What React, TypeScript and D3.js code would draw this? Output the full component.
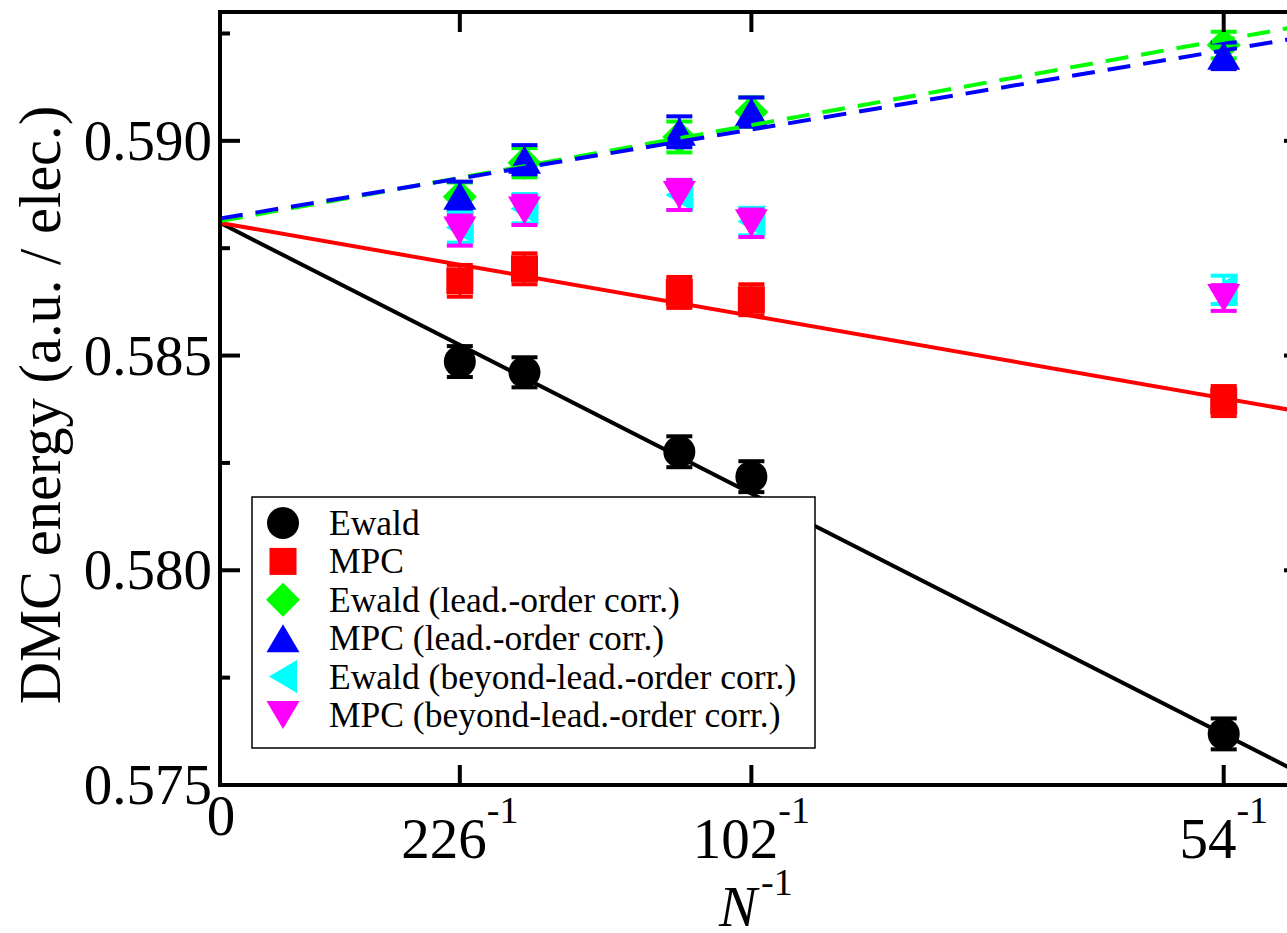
import React from "react";
import * as d3 from "d3";

// ---- data ----
const sizes = [226, 178, 118, 102, 54];
const ewald = [0.58486, 0.58461, 0.58276, 0.58218, 0.57619];
const ewaldErr = [0.00036, 0.00035, 0.00036, 0.00036, 0.00036];
const mpc = [0.58674, 0.58702, 0.58647, 0.5863, 0.58394];
const mpcErr = [0.00037, 0.00036, 0.00036, 0.00036, 0.00035];
const ewaldLead = [0.5887, 0.58949, 0.59009, 0.59067, 0.59223];
const ewaldLeadErr = [0.00033, 0.00034, 0.00036, 0.00034, 0.00031];
const mpcLead = [0.58872, 0.58956, 0.59021, 0.59067, 0.59198];
const mpcLeadErr = [0.00033, 0.00034, 0.00036, 0.00034, 0.00031];
const ewaldBeyond = [0.58798, 0.58842, 0.58874, 0.58812, 0.58653];
const ewaldBeyondErr = [0.00035, 0.00034, 0.00035, 0.00032, 0.00033];
const mpcBeyond = [0.58791, 0.58838, 0.58874, 0.58808, 0.58634];
const mpcBeyondErr = [0.00035, 0.00034, 0.00035, 0.00032, 0.0003];

// fit lines: [intercept, slope]
const ewaldFit = [0.58809, -0.643];
const mpcFit = [0.58809, -0.2206];
const ewaldLeadFit = [0.58813, 0.228];
const mpcLeadFit = [0.58819, 0.2115];

const xTickSizes = [226, 102, 54];
const yMajorTicks = [0.575, 0.58, 0.585, 0.59];
const yMinorTicks = [0.5775, 0.5825, 0.5875, 0.5925];

const legendLabels = [
  "Ewald",
  "MPC",
  "Ewald (lead.-order corr.)",
  "MPC (lead.-order corr.)",
  "Ewald (beyond-lead.-order corr.)",
  "MPC (beyond-lead.-order corr.)",
];

type Shape = "circle" | "square" | "diamond" | "up" | "left" | "down";

const series: { vals: number[]; errs: number[]; color: string; shape: Shape }[] = [
  { vals: ewald, errs: ewaldErr, color: "#000000", shape: "circle" },
  { vals: mpc, errs: mpcErr, color: "#ff0000", shape: "square" },
  { vals: ewaldLead, errs: ewaldLeadErr, color: "#00ff00", shape: "diamond" },
  { vals: mpcLead, errs: mpcLeadErr, color: "#0000ff", shape: "up" },
  { vals: ewaldBeyond, errs: ewaldBeyondErr, color: "#00ffff", shape: "left" },
  { vals: mpcBeyond, errs: mpcBeyondErr, color: "#ff00ff", shape: "down" },
];

const fits: { p: number[]; color: string; dash?: string }[] = [
  { p: ewaldFit, color: "#000000" },
  { p: mpcFit, color: "#ff0000" },
  { p: ewaldLeadFit, color: "#00ff00", dash: "23 13" },
  { p: mpcLeadFit, color: "#0000ff", dash: "23 13" },
];

const FONT = "'Liberation Serif', 'Times New Roman', Times, serif";

function Marker({ shape, x, y, color }: { shape: Shape; x: number; y: number; color: string }) {
  switch (shape) {
    case "circle":
      return <circle cx={x} cy={y} r={16} fill={color} />;
    case "square":
      return <rect x={x - 13.5} y={y - 13.5} width={27} height={27} fill={color} />;
    case "diamond":
      return <path d={`M${x},${y - 17}L${x + 17},${y}L${x},${y + 17}L${x - 17},${y}Z`} fill={color} />;
    case "up":
      return <path d={`M${x},${y - 14}L${x + 16.5},${y + 14}L${x - 16.5},${y + 14}Z`} fill={color} />;
    case "down":
      return <path d={`M${x},${y + 14}L${x + 16.5},${y - 14}L${x - 16.5},${y - 14}Z`} fill={color} />;
    case "left":
      return <path d={`M${x - 14},${y}L${x + 14},${y - 16.5}L${x + 14},${y + 16.5}Z`} fill={color} />;
  }
  return null;
}

export default function App() {
  const W = 1287;
  const H = 933;
  const x = d3.scaleLinear().domain([0, 0.02]).range([220, 1304]);
  const y = d3.scaleLinear().domain([0.575, 0.593]).range([785, 12]);
  const [x0, x1] = x.range();
  const [yb, yt] = y.range();
  const fmt = d3.format(".3f");

  const legendX = 252;
  const legendY = 497;
  const legendW = 563;
  const legendH = 251;
  const legendBase0 = 535;
  const legendStep = 38.4;

  return (
    <svg
      width={W}
      height={H}
      style={{ position: "absolute", left: 0, top: 0, background: "#fff" }}
      fontFamily={FONT}
    >
      <rect x={0} y={0} width={W} height={H} fill="#fff" />
      <defs>
        <clipPath id="plotclip">
          <rect x={x0} y={yt} width={x1 - x0} height={yb - yt} />
        </clipPath>
      </defs>

      {/* markers with error bars */}
      <g clipPath="url(#plotclip)">
        {series.map((s, si) => (
          <g key={si}>
            {s.vals.map((v, i) => {
              const cx = x(1 / sizes[i]);
              const cy = y(v);
              const ylo = y(v - s.errs[i]);
              const yhi = y(v + s.errs[i]);
              return (
                <g key={i}>
                  <line x1={cx} x2={cx} y1={ylo} y2={yhi} stroke={s.color} strokeWidth={3} />
                  <line x1={cx - 13} x2={cx + 13} y1={yhi} y2={yhi} stroke={s.color} strokeWidth={4} />
                  <line x1={cx - 13} x2={cx + 13} y1={ylo} y2={ylo} stroke={s.color} strokeWidth={4} />
                  <Marker shape={s.shape} x={cx} y={cy} color={s.color} />
                </g>
              );
            })}
          </g>
        ))}

        {/* fit lines */}
        {fits.map((f, i) => {
          const xs = x.domain();
          const pts: [number, number][] = xs.map((xv) => [x(xv), y(f.p[0] + f.p[1] * xv)]);
          return (
            <path
              key={i}
              d={d3.line()(pts) || ""}
              fill="none"
              stroke={f.color}
              strokeWidth={4}
              strokeDasharray={f.dash}
            />
          );
        })}
      </g>

      {/* axes frame */}
      <rect x={x0} y={yt} width={x1 - x0} height={yb - yt} fill="none" stroke="#000" strokeWidth={4} />

      {/* y ticks */}
      {yMajorTicks.map((t) => (
        <g key={"ym" + t}>
          <line x1={x0} x2={x0 + 20} y1={y(t)} y2={y(t)} stroke="#000" strokeWidth={4} />
          <line x1={x1} x2={x1 - 20} y1={y(t)} y2={y(t)} stroke="#000" strokeWidth={4} />
          <text x={212} y={y(t) + 19} textAnchor="end" fontSize={57} fill="#000">
            {fmt(t)}
          </text>
        </g>
      ))}
      {yMinorTicks.map((t) => (
        <g key={"yn" + t}>
          <line x1={x0} x2={x0 + 10} y1={y(t)} y2={y(t)} stroke="#000" strokeWidth={4} />
          <line x1={x1} x2={x1 - 10} y1={y(t)} y2={y(t)} stroke="#000" strokeWidth={4} />
        </g>
      ))}

      {/* x ticks */}
      {xTickSizes.map((n) => {
        const px = x(1 / n);
        return (
          <g key={"xt" + n}>
            <line x1={px} x2={px} y1={yb} y2={yb - 20} stroke="#000" strokeWidth={4} />
            <line x1={px} x2={px} y1={yt} y2={yt + 20} stroke="#000" strokeWidth={4} />
            <text x={px} y={858} textAnchor="middle" fontSize={57} fill="#000">
              {String(n)}
              <tspan fontSize={38} dy={-35}>
                -1
              </tspan>
            </text>
          </g>
        );
      })}
      <text x={x(0) + 1} y={835} textAnchor="middle" fontSize={57} fill="#000">
        0
      </text>

      {/* axis titles */}
      <text x={719} y={926} fontSize={57} fill="#000">
        <tspan fontStyle="italic">N</tspan>
        <tspan fontSize={38} dy={-31} dx={4}>
          -1
        </tspan>
      </text>
      <text
        transform={`translate(60,405) rotate(-90)`}
        textAnchor="middle"
        fontSize={58.5}
        fill="#000"
      >
        DMC energy (a.u. / elec.)
      </text>

      {/* legend */}
      <rect x={legendX} y={legendY} width={legendW} height={legendH} fill="#fff" stroke="#000" strokeWidth={1.5} />
      {legendLabels.map((lab, i) => {
        const base = legendBase0 + i * legendStep;
        const s = series[i];
        return (
          <g key={"lg" + i}>
            <Marker shape={s.shape} x={283} y={base - 12} color={s.color} />
            <text x={329} y={base} fontSize={35.5} fill="#000">
              {lab}
            </text>
          </g>
        );
      })}
    </svg>
  );
}
